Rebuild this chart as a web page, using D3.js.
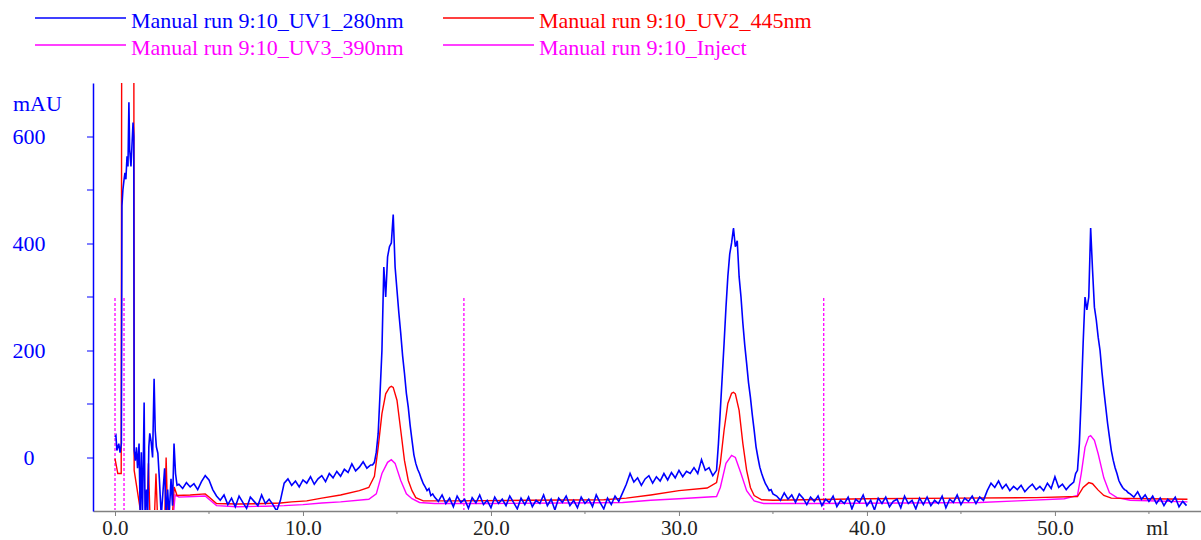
<!DOCTYPE html>
<html>
<head>
<meta charset="utf-8">
<script src="https://cdn.jsdelivr.net/npm/d3@7"></script>
<style>
    body { margin: 0; background: #fff; }
</style>
</head>
<body>
<div id="chart"></div>
<script>
const FONT = '"Liberation Serif", "DejaVu Serif", "Times New Roman", serif';
const SERIES_NAMES = [
    'Manual run 9:10_UV1_280nm',
    'Manual run 9:10_UV2_445nm',
    'Manual run 9:10_UV3_390nm',
    'Manual run 9:10_Inject'
];
const SERIES_COLORS = ['#0000ff', '#ff0000', '#ff00ff', '#ff00ff'];

const X_MAJOR = [0, 10, 20, 30, 40, 50];
const X_MINOR = [5, 15, 25, 35, 45, 55];
const Y_MAJOR = [0, 200, 400, 600];
const Y_MINOR = [100, 300, 500];

// UV1 : début d'injection (points irréguliers)
const uv1Head = [
    [0.00, 38], [0.05, 41], [0.10, 13], [0.20, 26], [0.27, 9], [0.34, 26],
    [0.37, 470], [0.42, 500], [0.48, 519], [0.53, 532], [0.58, 520], [0.64, 563],
    [0.69, 544], [0.74, 664], [0.78, 576], [0.85, 544], [0.90, 581], [0.96, 626],
    [1.00, 600], [1.02, 13], [1.08, -6], [1.14, 19], [1.20, -20], [1.28, 26],
    [1.34, -110], [1.40, 10], [1.46, -110], [1.51, 0], [1.55, 103], [1.60, -110],
    [1.68, -60], [1.74, -110], [1.80, 20], [1.85, 45], [1.92, 30], [2.00, 0],
    [2.08, 147], [2.14, 50], [2.20, 20], [2.28, 8], [2.36, -40], [2.46, -110],
    [2.56, -60], [2.64, -20], [2.72, -110], [2.80, -60], [2.88, -110], [2.98, -40],
    [3.06, -90], [3.14, 26], [3.22, -30], [3.30, -52]
];
// UV1 : suite, par tronçons [début ml, pas ml, valeurs mAU]
const uv1Runs = [
    [3.4, 0.2, [-50, -58, -47, -55, -49, -60, -45, -34, -42, -60, -72]],
    [5.6, 0.2, [-80, -70, -88, -76, -92, -72, -84, -95, -74, -82, -90, -70, -86, -78, -88, -100, -80]],
    [9.0, 0.2, [-48, -40, -52, -44, -55, -42, -48, -36, -50, -40,
                -34, -45, -30, -38, -26, -35, -22, -28, -12, -25,
                -18, -8, -20, -14]],
    [13.7, 0.1, [-14, -9, 10, 45, 120, 200, 356, 300, 375, 394, 401, 454, 356, 313, 270, 232,
                 190, 157, 120, 94, 60, 32, 5, -11, -22, -30, -40, -49, -55, -62, -58, -71, -68]],
    [17.0, 0.2, [-74, -82, -70, -86, -76, -92, -72, -84, -78, -95,
                 -75, -85, -70, -88, -80, -94, -74, -86, -78, -90,
                 -72, -84, -96, -76, -88, -74, -92, -80, -86, -70,
                 -90, -78, -98, -76, -84, -72, -90, -80, -94, -74,
                 -86, -78, -92, -70, -84, -96, -76, -88, -72, -82,
                 -66]],
    [27.2, 0.2, [-50, -30, -46, -38, -52, -40, -34, -48, -36, -44,
                 -30, -42, -28, -38, -24, -36, -26, -30, -19, -30,
                 -4, -24, -19, -34, -24]],
    [32.1, 0.1, [26, 88, 150, 213, 280, 338, 380, 401, 429, 394, 405, 338, 300, 251, 210,
                 176, 140, 113, 80, 51, 20, 0, -18, -30, -40, -49, -55, -62, -60, -68]],
    [35.2, 0.2, [-72, -80, -66, -78, -70, -84, -68, -76, -88, -74,
                 -82, -72, -90, -78, -84, -72, -92, -80, -86, -74,
                 -96, -78, -84, -70, -90, -80, -98, -76, -86, -74,
                 -92, -82, -78, -94, -72, -86, -80, -96, -76, -88,
                 -74, -90, -80, -86, -72, -94, -78, -84, -70, -88,
                 -76, -82, -72, -86, -74, -80]],
    [46.4, 0.2, [-62, -48, -56, -44, -58, -50, -62, -54, -60, -52,
                 -64, -56, -50, -60, -54, -62, -48, -58, -36, -56,
                 -50, -60, -52, -46]],
    [51.1, 0.1, [-30, -24, 26, 113, 213, 300, 276, 300, 429, 351, 281, 257, 225, 200, 160,
                 126, 95, 64, 38, 13, -5, -19, -30, -43, -50, -56, -60, -62, -66, -68]],
    [54.2, 0.2, [-74, -64, -78, -70, -82, -72, -86, -76, -90, -78, -84, -74, -92, -82, -90]]
];

// UV2 (445 nm)
const uv2 = [
    [0.00, -2], [0.15, -30], [0.33, -30], [0.36, 900], [1.00, 900], [1.02, -24],
    [1.40, -110], [1.70, -110], [1.78, -11], [1.86, -110], [2.10, -110], [2.18, -30],
    [2.26, -110], [2.65, -110], [2.72, 0], [2.80, -110], [3.05, -110], [3.15, -55],
    [3.30, -71], [4.0, -70], [4.8, -68], [5.0, -74], [5.4, -86], [6.5, -87],
    [8.0, -86], [8.8, -85], [9.4, -83], [10.2, -81], [11.0, -76], [12.0, -70],
    [13.0, -62], [13.5, -56], [13.8, -35], [14.0, 19], [14.2, 82], [14.4, 119],
    [14.6, 131], [14.7, 133], [14.8, 131], [15.0, 107], [15.2, 51], [15.4, -6],
    [15.6, -43], [15.8, -62], [16.0, -75], [16.4, -81], [18.0, -81], [22.0, -80],
    [26.0, -79], [27.2, -76], [28.5, -70], [30.0, -62], [31.5, -57], [32.0, -47],
    [32.2, -11], [32.4, 51], [32.6, 101], [32.8, 120], [32.9, 122], [33.0, 119],
    [33.2, 88], [33.4, 26], [33.6, -24], [33.8, -56], [34.0, -71], [34.4, -79],
    [35.0, -80], [40.0, -77], [45.0, -76], [49.0, -75], [51.2, -73], [51.5, -56],
    [51.8, -47], [52.0, -49], [52.3, -61], [52.6, -71], [53.0, -76], [55.0, -77],
    [57.05, -78]
];

// UV3 (390 nm)
const uv3 = [
    [3.10, -110], [3.20, -70], [3.40, -74], [4.2, -73], [4.8, -72], [5.0, -78],
    [5.4, -90], [6.5, -92], [8.0, -91], [9.0, -90], [10.0, -88], [11.0, -85],
    [12.0, -83], [13.5, -78], [13.9, -68], [14.2, -30], [14.5, -9], [14.7, -4],
    [14.9, -11], [15.2, -43], [15.5, -68], [15.8, -77], [16.2, -84], [17.0, -86],
    [20.0, -86], [24.0, -85], [27.0, -84], [28.5, -80], [30.0, -77], [32.0, -73],
    [32.2, -56], [32.5, -11], [32.8, 4], [33.0, 0], [33.3, -30], [33.6, -62],
    [34.0, -81], [34.5, -86], [37.0, -86], [42.0, -85], [46.0, -84], [48.0, -81],
    [50.5, -77], [51.2, -71], [51.4, -30], [51.6, 19], [51.8, 39], [51.9, 41],
    [52.1, 32], [52.3, 7], [52.6, -38], [52.9, -66], [53.3, -75], [54.0, -80],
    [57.05, -83]
];

// Marques d'injection (ml) et hauteur des traits (mAU)
const injectMl = [0.0, 0.48, 18.56, 37.7];
const INJECT_TOP = 300;

function buildUv1() {
    const pts = uv1Head.slice();
    uv1Runs.forEach(([start, step, vals]) => {
        vals.forEach((v, i) => pts.push([start + i * step, v]));
    });
    return pts;
}

function drawChart() {
    const width = 1201;
    const height = 540;
    const plot = { left: 93, right: 1201, top: 83, bottom: 511 };

    const svg = d3.select('#chart')
        .append('svg')
        .attr('width', width)
        .attr('height', height)
        .attr('font-family', FONT);

    const xScale = d3.scaleLinear()
        .domain([-1.17, 57.77])
        .range([plot.left, plot.right]);

    const yScale = d3.scaleLinear()
        .domain([-100, 700])
        .range([plot.bottom, plot.top]);

    // Légende
    const legend = svg.append('g');
    SERIES_NAMES.forEach((name, i) => {
        const col = i % 2;
        const row = Math.floor(i / 2);
        const x0 = col === 0 ? 35 : 443;
        const y0 = row === 0 ? 18 : 45;
        legend.append('line')
            .attr('x1', x0).attr('x2', x0 + 91)
            .attr('y1', y0).attr('y2', y0)
            .attr('stroke', SERIES_COLORS[i])
            .attr('stroke-width', 1.3);
        legend.append('text')
            .attr('x', x0 + 96)
            .attr('y', y0 + 10)
            .attr('fill', SERIES_COLORS[i])
            .attr('font-family', FONT)
            .attr('font-size', 22)
            .text(name);
    });

    // Axe X
    const xAxisG = svg.append('g')
        .attr('transform', `translate(0,${plot.bottom})`);
    xAxisG.call(d3.axisBottom(xScale)
        .tickValues(X_MAJOR)
        .tickFormat(d3.format('.1f'))
        .tickSize(5)
        .tickSizeOuter(0)
        .tickPadding(4));
    xAxisG.attr('font-family', FONT).attr('font-size', 21);
    xAxisG.select('.domain').attr('stroke', '#808080').attr('stroke-width', 1.5);
    xAxisG.selectAll('.tick line').attr('stroke', '#808080');
    xAxisG.selectAll('.tick text').attr('fill', '#222');
    xAxisG.selectAll('.minor')
        .data(X_MINOR)
        .join('line')
        .attr('class', 'minor')
        .attr('x1', d => xScale(d)).attr('x2', d => xScale(d))
        .attr('y1', 0).attr('y2', 3)
        .attr('stroke', '#808080');
    xAxisG.append('text')
        .attr('x', xScale(55.45))
        .attr('y', 24)
        .attr('text-anchor', 'middle')
        .attr('fill', '#222')
        .text('ml');

    // Axe Y
    const yAxisG = svg.append('g')
        .attr('transform', `translate(${plot.left},0)`);
    yAxisG.call(d3.axisLeft(yScale)
        .tickValues(Y_MAJOR)
        .tickSize(6)
        .tickSizeOuter(0));
    yAxisG.attr('font-family', FONT).attr('font-size', 22);
    yAxisG.select('.domain').attr('stroke', '#0000ff').attr('stroke-width', 1.5);
    yAxisG.selectAll('.tick line').attr('stroke', '#0000ff');
    yAxisG.selectAll('.tick text')
        .attr('x', -64)
        .attr('text-anchor', 'middle')
        .attr('fill', '#0000ff');
    yAxisG.selectAll('.minor')
        .data(Y_MINOR)
        .join('line')
        .attr('class', 'minor')
        .attr('x1', -6).attr('x2', 0)
        .attr('y1', d => yScale(d)).attr('y2', d => yScale(d))
        .attr('stroke', '#0000ff');
    svg.append('text')
        .attr('x', 13)
        .attr('y', 111)
        .attr('fill', '#0000ff')
        .attr('font-size', 22)
        .text('mAU');

    // Zone de tracé
    svg.append('clipPath')
        .attr('id', 'plotClip')
        .append('rect')
        .attr('x', plot.left + 1)
        .attr('y', plot.top)
        .attr('width', plot.right - plot.left)
        .attr('height', plot.bottom - plot.top - 1);

    const traces = svg.append('g').attr('clip-path', 'url(#plotClip)');

    const line = d3.line()
        .x(d => xScale(d[0]))
        .y(d => yScale(d[1]));

    // Injections
    traces.selectAll('.inject')
        .data(injectMl)
        .join('line')
        .attr('class', 'inject')
        .attr('x1', d => xScale(d)).attr('x2', d => xScale(d))
        .attr('y1', yScale(-100)).attr('y2', yScale(INJECT_TOP))
        .attr('stroke', SERIES_COLORS[3])
        .attr('stroke-width', 1.3)
        .attr('stroke-dasharray', '3,2');

    traces.append('path')
        .datum(uv3)
        .attr('d', line)
        .attr('fill', 'none')
        .attr('stroke', SERIES_COLORS[2])
        .attr('stroke-width', 1.4);

    traces.append('path')
        .datum(uv2)
        .attr('d', line)
        .attr('fill', 'none')
        .attr('stroke', SERIES_COLORS[1])
        .attr('stroke-width', 1.4);

    traces.append('path')
        .datum(buildUv1())
        .attr('d', line)
        .attr('fill', 'none')
        .attr('stroke', SERIES_COLORS[0])
        .attr('stroke-width', 1.6);
}

drawChart();
</script>
</body>
</html>
